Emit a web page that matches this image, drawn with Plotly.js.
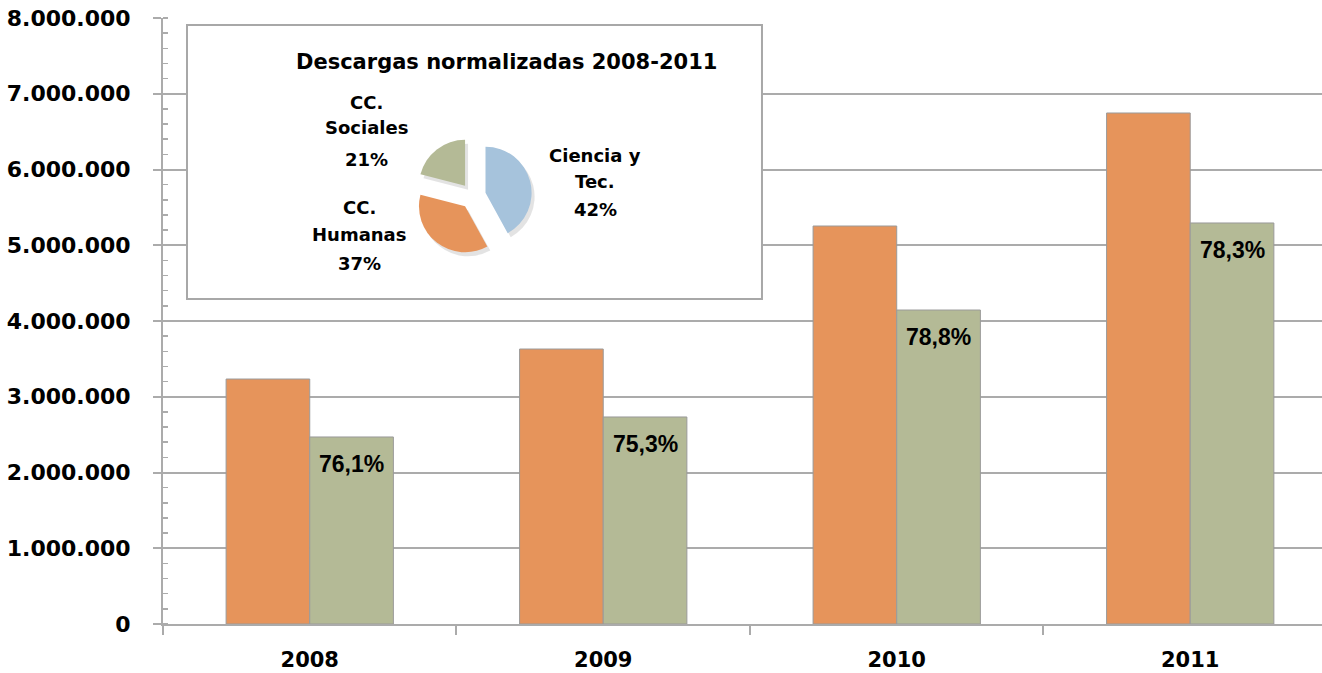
<!DOCTYPE html>
<html><head><meta charset="utf-8">
<script src="https://cdn.plot.ly/plotly-3.0.1.min.js"></script>
<style>html,body{margin:0;padding:0;overflow:hidden;background:#fff}</style>
</head><body><div id="chart" style="width:1322px;height:673px"></div>
<script>
// ---- data ----
const years = ["2008", "2009", "2010", "2011"];
const seriesOrange = [3234000, 3630000, 5254000, 6746000];
const seriesGreen = [2469000, 2733000, 4145000, 5294000];
const greenLabels = ["76,1%", "75,3%", "78,8%", "78,3%"];
const pieTitle = "Descargas normalizadas 2008-2011";
const pieNames = ["Ciencia y Tec.", "CC. Humanas", "CC. Sociales"];
const pieLines = [["Ciencia y", "Tec."], ["CC.", "Humanas"], ["CC.", "Sociales"]];
const pieValues = [42, 37, 21];

// ---- layout helpers ----
const W = 1322, H = 673, ML = 163, MR = 0, MT = 18, MB = 49;
const PW = W - ML - MR, PH = H - MT - MB;
const px2x = p => (p - ML) / PW;
const py2y = p => (H - MB - p) / PH;

const cOrange = "#E6945B", cGreen = "#B4BA96", cBlue = "#A6C3DC";
const gridC = "#ababab";
const fam = "DejaVu Sans";

const traces = [
  {type: "bar", x: years, y: seriesOrange, name: "Descargas",
   marker: {color: cOrange, line: {color: "#9a9a9a", width: 1}}, hoverinfo: "y"},
  {type: "bar", x: years, y: seriesGreen, name: "Normalizadas",
   marker: {color: cGreen, line: {color: "#9a9a9a", width: 1}}, hoverinfo: "y"},
  // soft shadow of the pie
  {type: "pie", values: pieValues, labels: pieNames, sort: false, direction: "clockwise",
   rotation: 0, pull: 0.28, textinfo: "none", hoverinfo: "skip", showlegend: false,
   marker: {colors: ["rgba(0,0,0,0.11)", "rgba(0,0,0,0.11)", "rgba(0,0,0,0.11)"], line: {width: 0}},
   domain: {x: [px2x(417), px2x(535)], y: [py2y(259), py2y(141)]}},
  {type: "pie", values: pieValues, labels: pieNames, sort: false, direction: "clockwise",
   rotation: 0, pull: 0.28, textinfo: "none", showlegend: false,
   marker: {colors: [cBlue, cOrange, cGreen], line: {width: 0}},
   domain: {x: [px2x(414), px2x(532)], y: [py2y(255), py2y(137)]}}
];

const annotations = [];
// green bar labels
years.forEach((yr, i) => {
  annotations.push({x: i + 0.1425, y: seriesGreen[i], xref: "x", yref: "y",
    text: greenLabels[i], showarrow: false, yanchor: "middle", yshift: -27,
    font: {family: "Liberation Sans", size: 23, color: "#000", weight: "bold"}});
});
// pie title
annotations.push({x: px2x(506), y: py2y(62), xref: "paper", yref: "paper",
  text: pieTitle, showarrow: false, xanchor: "center", yanchor: "middle",
  font: {family: fam, size: 21, color: "#000", weight: "bold"}});
// pie labels (one annotation per line)
const labelPos = [
  {x: 595, ys: [155, 181, 209]},
  {x: 359, ys: [207, 234, 263]},
  {x: 366, ys: [102, 128, 159]}
];
pieLines.forEach((lines, k) => {
  const all = lines.concat([pieValues[k] + "%"]);
  all.forEach((t, j) => {
    annotations.push({x: px2x(labelPos[k].x), y: py2y(labelPos[k].ys[j]), xref: "paper", yref: "paper",
      text: t, showarrow: false, xanchor: "center", yanchor: "middle",
      font: {family: fam, size: 18, color: "#000", weight: "bold"}});
  });
});

const layout = {
  width: W, height: H,
  margin: {l: ML, r: MR, t: MT, b: MB, pad: 0},
  paper_bgcolor: "#fff", plot_bgcolor: "#fff",
  separators: ",.",
  showlegend: false,
  barmode: "group", bargap: 0.43, bargroupgap: 0,
  xaxis: {type: "category", range: [-0.5, 3.449], showgrid: false, zeroline: false,
    showline: true, linecolor: gridC, linewidth: 2,
    ticks: "outside", tickson: "boundaries", ticklen: 9, tickwidth: 2, tickcolor: gridC,
    tickfont: {family: fam, size: 21, color: "#000", weight: "bold"}, ticklabelstandoff: 16},
  yaxis: {range: [0, 8000000], dtick: 1000000, tickformat: ",.0f",
    showgrid: true, gridcolor: gridC, gridwidth: 2, zeroline: false,
    showline: true, linecolor: gridC, linewidth: 2,
    ticks: "outside", ticklen: 8, tickwidth: 2, tickcolor: gridC,
    minor: {dtick: 200000, ticks: "inside", ticklen: 5, tickwidth: 1.5, tickcolor: gridC, showgrid: false},
    tickfont: {family: fam, size: 22, color: "#000", weight: "bold"}, ticklabelstandoff: 18},
  shapes: [
    {type: "rect", xref: "x", yref: "y", layer: "between",
     x0: -0.5 + (187 - ML) / 293.5, x1: -0.5 + (762 - ML) / 293.5,
     y0: (H - MB - 299) / PH * 8000000, y1: (H - MB - 25) / PH * 8000000,
     fillcolor: "#fff", line: {color: "#a8a8a8", width: 2}}
  ],
  annotations: annotations
};

Plotly.newPlot("chart", traces, layout, {displayModeBar: false, staticPlot: true});
</script></body></html>
